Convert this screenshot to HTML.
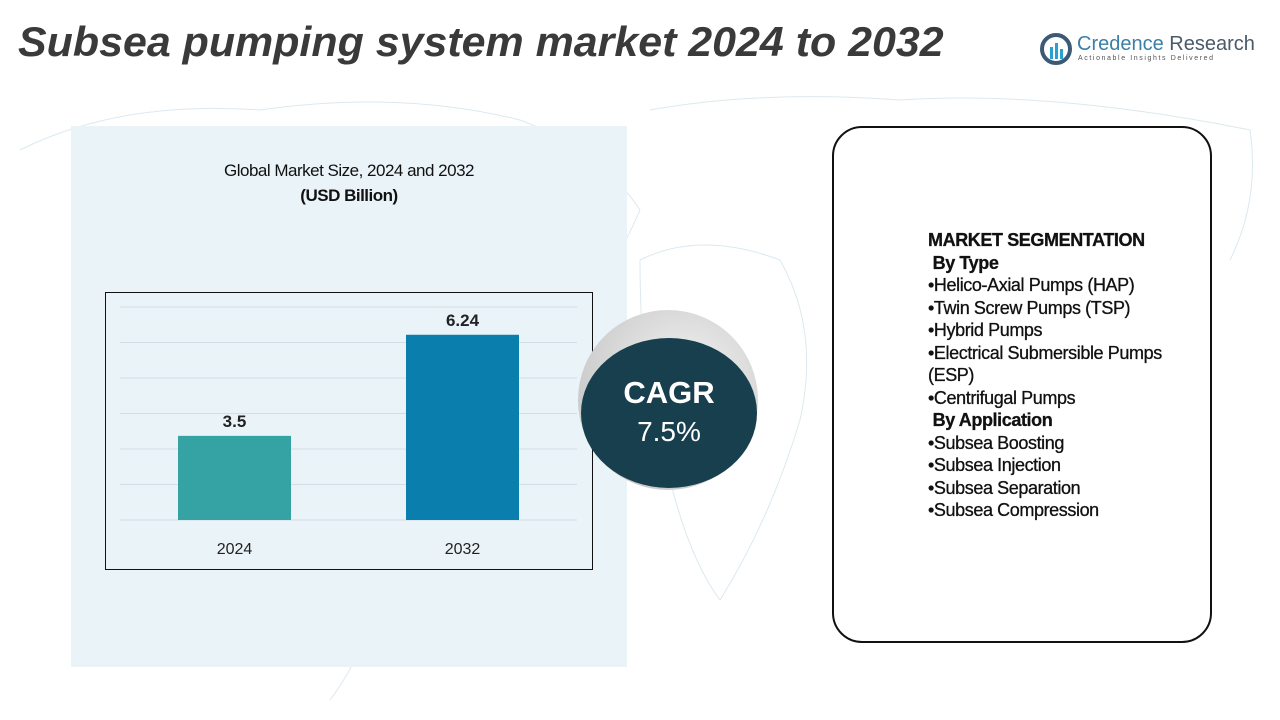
<!DOCTYPE html>
<html><head><meta charset="utf-8"><style>
body{margin:0;width:1280px;height:720px;background:#fff;position:relative;overflow:hidden;font-family:"Liberation Sans",sans-serif;}
.abs{position:absolute;}
#title{left:18px;top:18px;font-size:42px;font-weight:bold;font-style:italic;color:#3a3a3a;white-space:nowrap;transform:scaleX(1.022);transform-origin:0 0;}
#seg{left:832px;top:126px;width:380px;height:517px;border:2px solid #111;border-radius:30px;box-sizing:border-box;background:#fff;}
#segtext{left:928px;top:229px;font-size:18px;line-height:22.5px;color:#111;letter-spacing:-0.4px;white-space:nowrap;-webkit-text-stroke:0.3px #111;}
</style></head><body>
<svg class="abs" style="left:0;top:0" width="1280" height="720">
<g fill="none" stroke="#dbe9ef" stroke-width="1">
<path d="M20 150 Q120 100 260 110 Q400 90 520 120 Q600 150 640 210 Q610 280 560 330 Q520 380 470 420 Q420 500 380 600 Q360 660 330 700"/>
<path d="M650 110 Q760 90 900 100 Q1050 90 1250 130 Q1260 200 1230 260"/>
<path d="M640 260 Q700 230 780 260 Q820 330 800 420 Q770 520 720 600 Q690 560 670 480 Q640 400 640 260"/>
</g></svg>
<div class="abs" style="left:71px;top:126px;width:556px;height:541px;background:#eaf3f8"></div>
<div id="title" class="abs">Subsea pumping system market 2024 to 2032</div>
<div class="abs" style="left:1040px;top:33px">
<svg width="32" height="32" style="position:absolute;left:0;top:0"><circle cx="16" cy="16" r="14" fill="none" stroke="#3c5a75" stroke-width="4"/><rect x="10" y="14" width="3" height="12" fill="#2a9fd0"/><rect x="15" y="10" width="3" height="16" fill="#2a9fd0"/><rect x="20" y="16" width="3" height="10" fill="#2a9fd0"/></svg>
<div style="position:absolute;left:37px;top:0;font-size:20px;color:#3a7fa8;white-space:nowrap">Credence <span style="color:#4a5a6a">Research</span></div>
<div style="position:absolute;left:38px;top:22px;font-size:7px;letter-spacing:1.6px;color:#555;white-space:nowrap">Actionable Insights Delivered</div>
</div>
<div class="abs" style="left:71px;top:161px;width:556px;text-align:center;font-size:17px;color:#111;letter-spacing:-0.5px">Global Market Size, 2024 and 2032<br><b style="line-height:30px">(USD Billion)</b></div>
<svg id="chart" class="abs" style="left:0;top:0" width="1280" height="720"></svg>
<div class="abs" style="left:578px;top:310px;width:180px;height:180px;border-radius:50%;background:radial-gradient(circle at 60% 40%,#f4f4f4,#bcbcbc)"></div>
<div class="abs" style="left:581px;top:338px;width:176px;height:150px;border-radius:50%;background:#173f4d;color:#fff;text-align:center;font-weight:bold;font-size:31px;line-height:38px;padding-top:36px;box-sizing:border-box">CAGR<br><span style="font-weight:normal;font-size:28px">7.5%</span></div>
<div id="seg" class="abs"></div>
<div id="segtext" class="abs">
<b>MARKET SEGMENTATION</b><br>&nbsp;<b>By Type</b><br>•Helico-Axial Pumps (HAP)<br>•Twin Screw Pumps (TSP)<br>•Hybrid Pumps<br>•Electrical Submersible Pumps<br>(ESP)<br>•Centrifugal Pumps<br>&nbsp;<b>By Application</b><br>•Subsea Boosting<br>•Subsea Injection<br>•Subsea Separation<br>•Subsea Compression</div>
<script>
const categories=["2024","2032"];
const values=[3.5,6.24];
const valueLabels=["3.5","6.24"];
const colors=["#35a3a3","#0a7fad"];
const svg=document.getElementById('chart');
const NS='http://www.w3.org/2000/svg';
const base=520, pxPerUnit=36.9, vmin=1.22;
function y(v){return base-(v-vmin)*pxPerUnit;}
function x(i){return 178+i*228;}
function mk(t,a){const e=document.createElementNS(NS,t);for(const k in a)e.setAttribute(k,a[k]);svg.appendChild(e);return e;}
const box=mk('rect',{x:105.5,y:292.5,width:487,height:277,fill:'none',stroke:'#111','stroke-width':1});


for(let g=0;g<7;g++){const l=mk('line',{x1:120,x2:577,y1:307+g*35.5,y2:307+g*35.5,stroke:'#d3dde3','stroke-width':1});

}
categories.forEach((c,i)=>{
const r=mk('rect',{x:x(i),y:y(values[i]),width:113,height:base-y(values[i]),fill:colors[i]});


const t=mk('text',{x:x(i)+56.5,y:y(values[i])-9,'text-anchor':'middle','font-size':17,'font-weight':'bold',fill:'#222','font-family':'Liberation Sans'});t.textContent=valueLabels[i];


const a=mk('text',{x:x(i)+56.5,y:554,'text-anchor':'middle','font-size':16,fill:'#222','font-family':'Liberation Sans'});a.textContent=c;


});
</script>
</body></html>
